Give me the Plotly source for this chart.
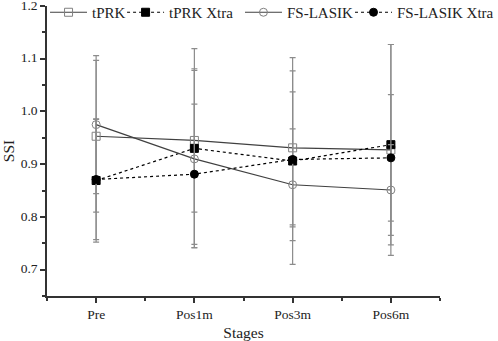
import plotly.graph_objects as go

stages = ["Pre", "Pos1m", "Pos3m", "Pos6m"]

tprk = [0.953, 0.945, 0.931, 0.927]
tprk_sd = [0.144, 0.136, 0.146, 0.200]

tprk_xtra = [0.869, 0.930, 0.906, 0.937]
tprk_xtra_sd = [0.117, 0.189, 0.196, 0.190]

fs_lasik = [0.975, 0.910, 0.861, 0.851]
fs_lasik_sd = [0.131, 0.168, 0.106, 0.086]

fs_lasik_xtra = [0.871, 0.881, 0.909, 0.912]
fs_lasik_xtra_sd = [0.114, 0.133, 0.128, 0.120]

FONT = "Liberation Serif"
FS = 13.5
LFS = 15
TXT = "#222222"
xpos = list(range(len(stages)))

H = 341
MT, MB = 6, 45
LEG_CY = 12.5  # legend row centre, px from top

series = [
    ("tPRK", tprk, tprk_sd, "square-open", "solid", "#404040", "#808080", "legend", -0.005),
    ("tPRK Xtra", tprk_xtra, tprk_xtra_sd, "square", "dot", "#000000", "#000000", "legend2", 0.191),
    ("FS-LASIK", fs_lasik, fs_lasik_sd, "circle-open", "solid", "#404040", "#808080", "legend3", 0.491),
    ("FS-LASIK Xtra", fs_lasik_xtra, fs_lasik_xtra_sd, "circle", "dot", "#000000", "#000000", "legend4", 0.771),
]

fig = go.Figure()
legends = {}
for name, vals, sd, sym, dash, lcol, mcol, lg, lx in series:
    fig.add_trace(go.Scatter(
        x=xpos, y=vals, name=name, mode="lines+markers", legend=lg,
        line=dict(color=lcol, width=1.2, dash=dash),
        marker=dict(symbol=sym, size=8, color=mcol,
                    line=dict(color=mcol, width=1)),
        error_y=dict(type="data", array=sd, visible=True,
                     color="#8c8c8c", thickness=1.2, width=3),
    ))
    legends[lg] = dict(orientation="h", x=lx, xanchor="left",
                       y=1 + (MT - LEG_CY) / (H - MT - MB), yanchor="middle",
                       bgcolor="rgba(0,0,0,0)", itemwidth=37,
                       font=dict(family=FONT, size=LFS, color=TXT))

fig.update_layout(
    width=498, height=H,
    margin=dict(l=47, r=58, t=MT, b=MB, autoexpand=False),
    paper_bgcolor="white", plot_bgcolor="white",
    font=dict(family=FONT, size=FS, color=TXT),
    showlegend=True,
    **legends,
    xaxis=dict(
        range=[-0.5, 3.5], tickmode="array", tickvals=xpos, ticktext=stages,
        automargin=False,
        showgrid=False, zeroline=False, showline=True, linecolor="#333333", linewidth=1.5,
        ticks="outside", ticklen=5, tickcolor="#333333", tickwidth=1.5,
        minor=dict(tickmode="array", tickvals=[-0.5, 0.5, 1.5, 2.5, 3.5], ticks="outside",
                   ticklen=3, tickcolor="#333333", tickwidth=1.5, showgrid=False),
        title=dict(text="Stages", font=dict(family=FONT, size=15.5), standoff=6),
        tickfont=dict(family=FONT, size=FS),
    ),
    yaxis=dict(
        range=[0.65, 1.2], tickmode="array", tickvals=[0.7, 0.8, 0.9, 1.0, 1.1, 1.2],
        ticktext=["0.7", "0.8", "0.9", "1.0", "1.1", "1.2"],
        automargin=False, ticklabeloverflow="allow", ticklabelshift=-1,
        showgrid=False, zeroline=False, showline=True, linecolor="#333333", linewidth=1.5,
        ticks="outside", ticklen=5, tickcolor="#333333", tickwidth=1.5,
        minor=dict(tickmode="array", tickvals=[0.65, 0.75, 0.85, 0.95, 1.05, 1.15], ticks="outside",
                   ticklen=3, tickcolor="#333333", tickwidth=1.5, showgrid=False),
        title=dict(text="SSI", font=dict(family=FONT, size=15.5), standoff=2),
        tickfont=dict(family=FONT, size=FS),
    ),
)

fig.write_html("out.html", config={"displayModeBar": False},
               post_script="document.body.style.margin='0';")
